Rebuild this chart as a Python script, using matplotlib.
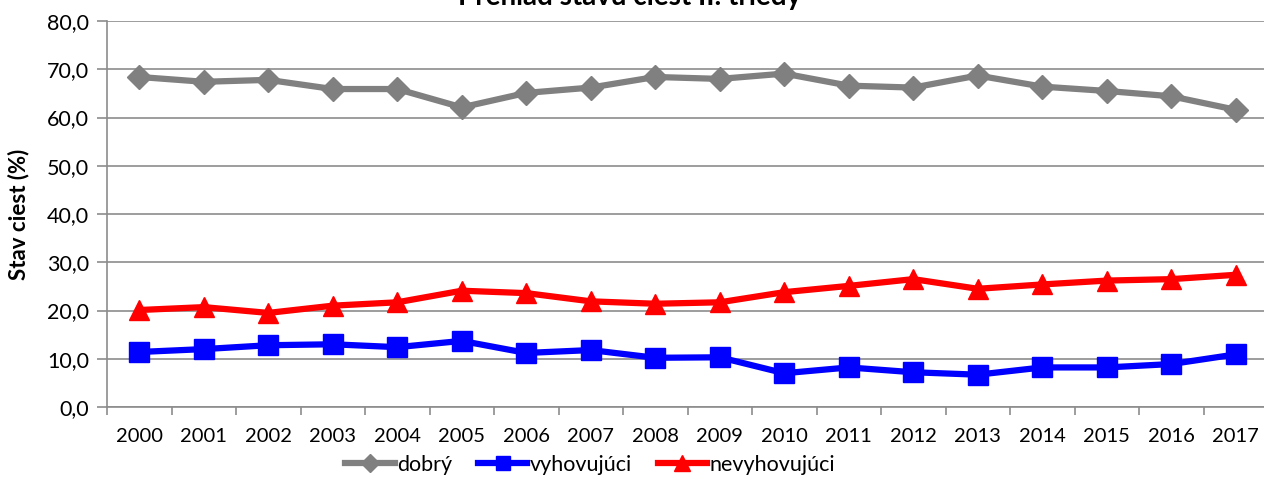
#!/usr/bin/env python3

import numpy as np
import matplotlib.pyplot as plt
from matplotlib.ticker import FixedLocator, FuncFormatter

years = ['2000', '2001', '2002', '2003', '2004', '2005', '2006', '2007', '2008',
         '2009', '2010', '2011', '2012', '2013', '2014', '2015', '2016', '2017']
dobry = [68.4, 67.4, 67.8, 65.9, 65.9, 62.1, 65.1, 66.2, 68.4,
         68.0, 69.1, 66.6, 66.2, 68.7, 66.4, 65.5, 64.4, 61.6]
vyhovujuci = [11.4, 12.0, 12.8, 13.0, 12.4, 13.7, 11.2, 11.8, 10.2,
              10.3, 7.0, 8.2, 7.2, 6.7, 8.2, 8.2, 8.9, 10.9]
nevyhovujuci = [20.1, 20.7, 19.5, 21.0, 21.7, 24.1, 23.6, 21.9, 21.4,
                21.7, 23.8, 25.1, 26.5, 24.5, 25.4, 26.2, 26.5, 27.4]

FONT = ['Lato', 'DejaVu Sans']
plt.rcParams['font.family'] = FONT


def main():
    W, H = 1264, 478
    fig = plt.figure(figsize=(W / 100, H / 100), dpi=100)
    left, right, top, bottom = 107, 1268, 21, 407
    ax = fig.add_axes([left / W, 1 - bottom / H, (right - left) / W, (bottom - top) / H])

    x = np.arange(len(years))
    ax.plot(x, dobry, color='#808080', lw=4.5, marker='D', ms=12, label='dobrý', zorder=3)
    ax.plot(x, vyhovujuci, color='#0000ff', lw=4.5, marker='s', ms=14, label='vyhovujúci', zorder=3)
    ax.plot(x, nevyhovujuci, color='#ff0000', lw=4.5, marker='^', ms=15, label='nevyhovujúci', zorder=3)

    ax.set_xlim(-0.5, len(years) - 0.5)
    ax.set_ylim(0, 80)
    ax.set_yticks(np.arange(0, 81, 10))
    ax.yaxis.set_major_formatter(FuncFormatter(lambda v, p: f'{v:.1f}'.replace('.', ',')))
    ax.set_xticks(x)
    ax.set_xticklabels(years)
    ax.xaxis.set_minor_locator(FixedLocator(np.arange(-0.5, len(years), 1)))
    ax.tick_params(axis='x', which='major', length=0, labelsize=14.5, pad=15)
    ax.tick_params(axis='x', which='minor', length=6, color='#8c8c8c', width=1.2)
    ax.tick_params(axis='y', length=7, color='#8c8c8c', width=1.2, labelsize=15.5, pad=6)

    ax.grid(axis='y', color='#8c8c8c', lw=1.2)
    ax.set_axisbelow(True)
    for s in ['top', 'right']:
        ax.spines[s].set_visible(False)
    for s in ['left', 'bottom']:
        ax.spines[s].set_color('#8c8c8c')
        ax.spines[s].set_linewidth(1.2)

    fig.text(19 / W, 1 - 214 / H, 'Stav ciest (%)', rotation=90, ha='center', va='center',
             fontsize=16, fontweight='bold')
    fig.text(630 / W, 1 - 5 / H, 'Prehľad stavu ciest II. triedy', ha='center', va='baseline',
             fontsize=20, fontweight='bold')

    fig.legend(loc='center', bbox_to_anchor=(590 / W, 1 - 465 / H), ncol=3, frameon=False,
               fontsize=15.5, handlelength=2.3, handletextpad=0.1, columnspacing=1.2,
               markerscale=0.75)

    fig.savefig('out.png', dpi=100)


if __name__ == "__main__":
    main()
